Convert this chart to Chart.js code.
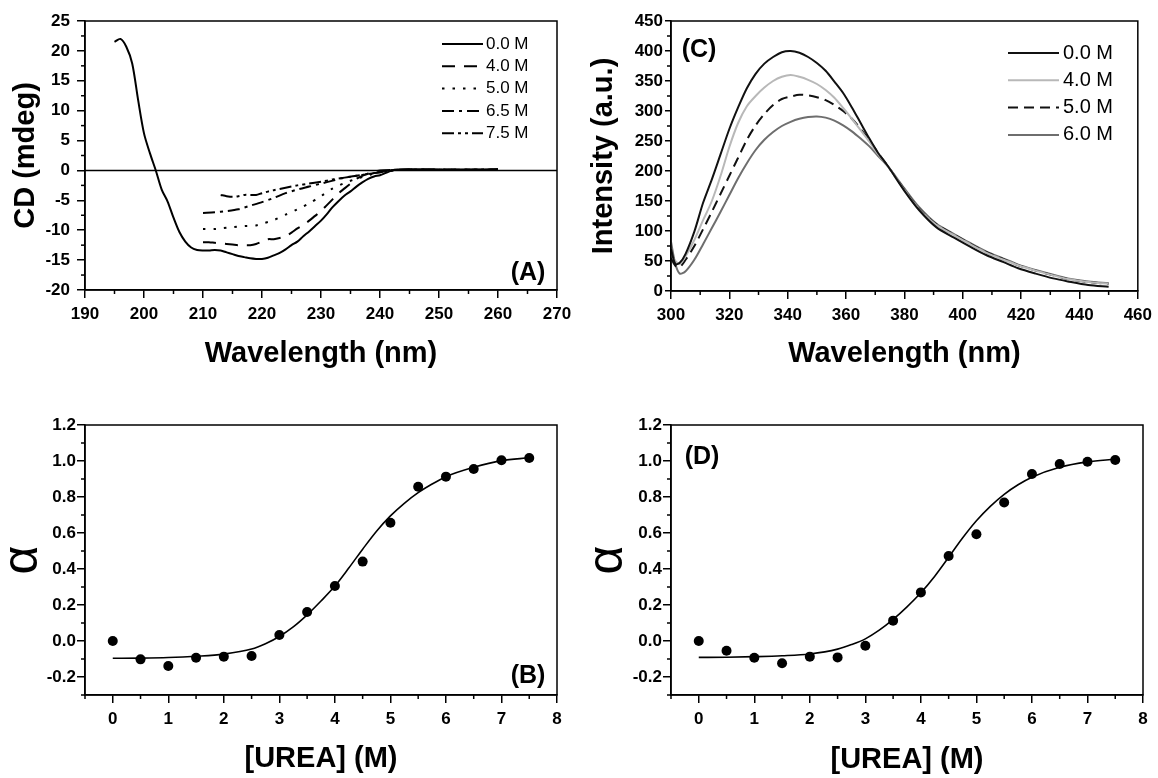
<!DOCTYPE html>
<html>
<head>
<meta charset="utf-8">
<script src="https://cdn.jsdelivr.net/npm/chart.js@4.4.1/dist/chart.umd.min.js"></script>
<style>
body{margin:0;background:#fff;width:1158px;height:778px;position:relative;overflow:hidden}
canvas{position:absolute}
</style>
</head>
<body>
<canvas id="cdChart" width="579" height="389" style="left:0;top:0"></canvas>
<canvas id="flChart" width="579" height="389" style="left:579px;top:0"></canvas>
<canvas id="cdFit" width="579" height="389" style="left:0;top:389px"></canvas>
<canvas id="flFit" width="579" height="389" style="left:579px;top:389px"></canvas>
<script>
// (A) far-UV CD spectra
const cdWave0 = [195,196,197,198,199,200,201,202,203,204,205,206,207,208,209,210,211,212,213,214,215,216,217,218,219,220,221,222,223,224,225,226,227,228,229,230,231,232,233,234,235,236,237,238,239,240,241,242,243,245,248,252,256,260];
const cd0 = [21.5,22.0,20.7,17.9,11.8,6.2,2.9,0.0,-3.2,-5.2,-7.9,-10.3,-11.9,-12.9,-13.3,-13.4,-13.4,-13.3,-13.4,-13.7,-14.0,-14.3,-14.5,-14.7,-14.8,-14.8,-14.6,-14.2,-13.8,-13.2,-12.5,-11.9,-11.0,-10.2,-9.3,-8.4,-7.3,-6.1,-5.1,-4.2,-3.5,-2.7,-2.0,-1.4,-1.0,-0.8,-0.4,0.0,0.15,0.2,0.2,0.15,0.15,0.2];
const cdWave40 = [210,211,212,213,214,215,216,217,218,219,220,221,222,223,224,225,226,227,228,229,230,231,232,233,234,235,236,237,238,239,240,242,245,250,255,260];
const cd40 = [-12.0,-12.0,-12.1,-12.2,-12.3,-12.4,-12.5,-12.5,-12.5,-12.3,-11.9,-11.5,-11.5,-11.3,-11.0,-10.4,-9.7,-9.1,-8.4,-7.6,-6.8,-5.8,-4.8,-3.8,-3.0,-2.2,-1.4,-0.9,-0.5,-0.2,0.0,0.1,0.15,0.1,0.1,0.1];
const cdWave50 = [210,212,213,215,217,219,220,222,224,226,228,230,232,234,236,238,240,242,245,250,255,260];
const cd50 = [-9.8,-9.8,-9.7,-9.5,-9.3,-9.2,-8.9,-8.3,-7.4,-6.5,-5.5,-4.3,-3.0,-2.1,-1.4,-0.8,-0.3,0.0,0.1,0.1,0.1,0.1];
const cdWave65 = [210,212,214,216,218,220,222,224,226,228,230,232,234,236,238,240,242,245,250,255,260];
const cd65 = [-7.1,-7.0,-6.8,-6.5,-5.9,-5.3,-4.6,-3.8,-3.2,-2.7,-2.2,-1.7,-1.2,-0.9,-0.6,-0.3,0.0,0.1,0.1,0.1,0.1];
const cdWave75 = [213,214,215,216,217,218,219,220,222,224,226,228,230,232,234,236,238,240,242,245,250,255,260];
const cd75 = [-4.1,-4.3,-4.4,-4.3,-4.1,-4.1,-4.1,-3.8,-3.3,-2.9,-2.5,-2.2,-1.9,-1.5,-1.2,-0.9,-0.6,-0.3,0.0,0.1,0.1,0.1,0.2];
const cdLabels = ['0.0 M','4.0 M','5.0 M','6.5 M','7.5 M'];
const cdTicksX = [190,200,210,220,230,240,250,260,270];
const cdTicksY = [-20,-15,-10,-5,0,5,10,15,20,25];

// (C) intrinsic fluorescence spectra
const flWave = [300,301.5,303,305,308,311,314,317,320,323,326,329,332,335,338,341,344,347,350,353,356,359,362,365,368,371,374.5,380,385,391,397,402.5,408,414,419,425,431,436,443,450];
const fl0 = [70,45,47,62,99,147,186,228,270,306,338,362,379,390,398,400,397,390,380,367,349,330,306,280,254,230,207,167,135,106,89,74,60,48,38,29,21,16,10,7];
const fl40 = [60,50,45,58,85,118,150,192,240,280,308,325,339,350,357,360,357,352,345,335,322,305,287,268,249,228,207,168,136,110,93,78,64,52,43,34,26,20,15,12];
const fl50 = [55,42,40,52,75,103,132,162,192,222,252,276,295,310,320,324,327,326,323,318,310,300,287,270,251,230,207,169,137,111,94,79,65,53,43,34,26,20,15,12];
const fl60 = [82,45,29,33,52,78,105,132,160,188,213,235,252,265,275,282,287,290,291,289,284,276,266,254,241,225,207,171,140,112,95,80,66,54,44,35,27,21,16,13];
const flLabels = ['0.0 M','4.0 M','5.0 M','6.0 M'];
const flTicksX = [300,320,340,360,380,400,420,440,460];
const flTicksY = [0,50,100,150,200,250,300,350,400,450];

// (B) and (D) fraction unfolded vs urea
const urea = [0,0.5,1,1.5,2,2.5,3,3.5,4,4.5,5,5.5,6,6.5,7,7.5];
const alphaCD = [0.0,-0.102,-0.139,-0.093,-0.087,-0.083,0.033,0.161,0.306,0.441,0.657,0.857,0.913,0.956,1.004,1.017];
const alphaFL = [0.0,-0.054,-0.093,-0.124,-0.087,-0.091,-0.026,0.113,0.270,0.472,0.593,0.769,0.928,0.983,0.996,1.006];
const fitUrea = [0,0.5,1,1.5,2,2.5,2.75,3,3.25,3.5,3.75,4,4.25,4.5,4.75,5,5.25,5.5,5.75,6,6.5,7,7.5];
const fitCD = [-0.096,-0.095,-0.092,-0.085,-0.073,-0.045,-0.015,0.025,0.078,0.145,0.222,0.305,0.405,0.51,0.61,0.695,0.765,0.824,0.872,0.913,0.965,1.002,1.018];
const fitFL = [-0.091,-0.090,-0.087,-0.082,-0.072,-0.045,-0.02,0.012,0.06,0.12,0.19,0.268,0.36,0.465,0.572,0.668,0.748,0.815,0.868,0.91,0.965,0.995,1.01];
const ureaTicks = [0,1,2,3,4,5,6,7,8];
const alphaTicks = [-0.2,0,0.2,0.4,0.6,0.8,1.0,1.2];

const pts = (xs, ys) => xs.map((x, i) => ({x: x, y: ys[i]}));
const tickFont = {family: 'Liberation Sans', size: 17, weight: 'bold'};
const titleFont = {family: 'Liberation Sans', size: 29, weight: 'bold', lineHeight: 1};

// box round the plot and the short minor ticks
const frame = {
  id: 'frame',
  afterDraw(chart, args, o) {
    const ctx = chart.ctx, a = chart.chartArea;
    ctx.save();
    ctx.strokeStyle = '#000';
    ctx.lineWidth = 1.5;
    ctx.strokeRect(a.left, a.top, a.right - a.left, a.bottom - a.top);
    ['x', 'y'].forEach(id => {
      const s = chart.scales[id], step = o[id];
      const majors = s.ticks.map(t => t.value);
      const n = Math.round((s.max - s.min) / step);
      for (let k = 0; k <= n; k++) {
        const v = s.min + k * step;
        if (majors.some(m => Math.abs(m - v) < 1e-6)) continue;
        const p = s.getPixelForValue(v);
        ctx.beginPath();
        if (id === 'x') { ctx.moveTo(p, a.bottom); ctx.lineTo(p, a.bottom + 4); }
        else { ctx.moveTo(a.left - 4, p); ctx.lineTo(a.left, p); }
        ctx.stroke();
      }
    });
    ctx.restore();
  }
};

const insideLegend = {
  id: 'insideLegend',
  afterDatasetsDraw(chart, args, o) {
    if (!o.x) return;
    const ctx = chart.ctx;
    let i = 0;
    chart.data.datasets.forEach(ds => {
      if (!ds.label) return;
      const y = o.y + i * o.step;
      ctx.save();
      ctx.strokeStyle = ds.borderColor;
      ctx.lineWidth = ds.borderWidth;
      ctx.setLineDash(ds.borderDash || []);
      ctx.beginPath();
      ctx.moveTo(o.x, y);
      ctx.lineTo(o.x + o.len, y);
      ctx.stroke();
      ctx.setLineDash([]);
      ctx.fillStyle = '#000';
      ctx.font = o.font;
      ctx.textBaseline = 'middle';
      ctx.fillText(ds.label, o.x + o.len + o.gap, y);
      ctx.restore();
      i++;
    });
  }
};

const panelTag = {
  id: 'panelTag',
  afterDraw(chart, args, o) {
    const ctx = chart.ctx;
    ctx.save();
    ctx.fillStyle = '#000';
    ctx.font = 'bold 25px "Liberation Sans"';
    ctx.textAlign = 'center';
    ctx.textBaseline = 'middle';
    ctx.fillText(o.text, o.x, o.y);
    ctx.restore();
  }
};

function axis(min, max, majors, fmt, title, t) {
  return {
    type: 'linear', min: min, max: max,
    afterBuildTicks: s => { s.ticks = majors.map(v => ({value: v})); },
    afterFit: s => { if (s.isHorizontal()) s.height = t.size; else s.width = t.size; },
    grid: {drawOnChartArea: false, tickLength: t.tick, color: '#000', lineWidth: 1.5},
    border: {color: '#000', width: 1.5},
    ticks: {color: '#000', font: t.font || tickFont, padding: t.pad, maxRotation: 0, autoSkip: false, callback: v => fmt(v)},
    title: {display: true, text: title, color: '#000', font: t.titleFont || titleFont, padding: t.titlePad}
  };
}

function makeChart(id, datasets, x, y, pad, minor, legend, tag) {
  return new Chart(document.getElementById(id), {
    type: 'scatter',
    data: {datasets: datasets},
    options: {
      responsive: false,
      animation: false,
      devicePixelRatio: 1,
      layout: {padding: pad},
      scales: {x: x, y: y},
      plugins: {
        legend: {display: false},
        tooltip: {enabled: false},
        frame: minor,
        insideLegend: legend,
        panelTag: tag
      }
    },
    plugins: [frame, insideLegend, panelTag]
  });
}

function line(label, xs, ys, color, dash, width) {
  return {label: label, data: pts(xs, ys), showLine: true, borderColor: color, borderWidth: width || 2,
    borderDash: dash, pointRadius: 0, tension: 0.3, fill: false};
}

const intFmt = v => String(v);
const oneDec = v => v.toFixed(1);

// (A)
makeChart('cdChart', [
  {data: pts([190, 270], [0, 0]), showLine: true, borderColor: '#000', borderWidth: 1.5, pointRadius: 0},
  line(cdLabels[0], cdWave0, cd0, '#000', []),
  line(cdLabels[1], cdWave40, cd40, '#000', [13, 9]),
  line(cdLabels[2], cdWave50, cd50, '#000', [2.5, 8]),
  line(cdLabels[3], cdWave65, cd65, '#000', [12, 5, 3, 5]),
  line(cdLabels[4], cdWave75, cd75, '#000', [12, 4, 3, 4, 3, 4])
],
  axis(190, 270, cdTicksX, intFmt, 'Wavelength (nm)', {size: 99, tick: 8, pad: 6, titlePad: {top: 0, bottom: 21}}),
  axis(-20, 25, cdTicksY, intFmt, 'CD (mdeg)', {size: 85, tick: 8, pad: 7, titlePad: {top: 11, bottom: 0}}),
  {top: 21, right: 22, left: 0, bottom: 0},
  {x: 5, y: 2.5},
  {x: 442, y: 44, step: 22.3, len: 41, gap: 3, font: '17px "Liberation Sans"'},
  {text: '(A)', x: 528, y: 273});

// (C)
makeChart('flChart', [
  line(flLabels[0], flWave, fl0, '#111', []),
  line(flLabels[1], flWave, fl40, '#b8b8b8', []),
  line(flLabels[2], flWave, fl50, '#111', [10, 6]),
  line(flLabels[3], flWave, fl60, '#6e6e6e', [])
],
  axis(300, 460, flTicksX, intFmt, 'Wavelength (nm)', {size: 98, tick: 8, pad: 6, titlePad: {top: 0, bottom: 21}}),
  axis(0, 450, flTicksY, intFmt, 'Intensity (a.u.)', {size: 92, tick: 6, pad: 2, titlePad: {top: 10, bottom: 0}}),
  {top: 21, right: 15, left: 0, bottom: 0},
  {x: 10, y: 25},
  {x: 429, y: 53, step: 27.3, len: 51, gap: 4, font: '20px "Liberation Sans"'},
  {text: '(C)', x: 120, y: 50});

function fitPanel(id, ys, fit, pad, yTitlePad, xTitlePad, tag) {
  makeChart(id, [
    {data: pts(fitUrea, fit), showLine: true, borderColor: '#000', borderWidth: 1.6, pointRadius: 0, cubicInterpolationMode: 'monotone'},
    {data: pts(urea, ys), showLine: false, pointRadius: 5, pointBackgroundColor: '#000', pointBorderColor: '#000', pointBorderWidth: 0}
  ],
    axis(-0.5, 8, ureaTicks, intFmt, '[UREA] (M)', {size: 83, tick: 8, pad: 6, titlePad: {top: 0, bottom: xTitlePad}}),
    axis(-0.3, 1.2, alphaTicks, oneDec, 'α', {size: pad.left, tick: 8, pad: 1,
      titleFont: {family: 'Liberation Sans', size: 50, lineHeight: 1}, titlePad: {top: yTitlePad, bottom: 0}}),
    {top: 36, right: pad.right, left: 0, bottom: 0},
    {x: 0.5, y: 0.1},
    {},
    tag);
}

// (B) and (D)
fitPanel('cdFit', alphaCD, fitCD, {left: 85, right: 22}, -2, 5, {text: '(B)', x: 528, y: 287});
fitPanel('flFit', alphaFL, fitFL, {left: 92, right: 15}, 4, 4, {text: '(D)', x: 123, y: 68});
</script>
</body>
</html>
